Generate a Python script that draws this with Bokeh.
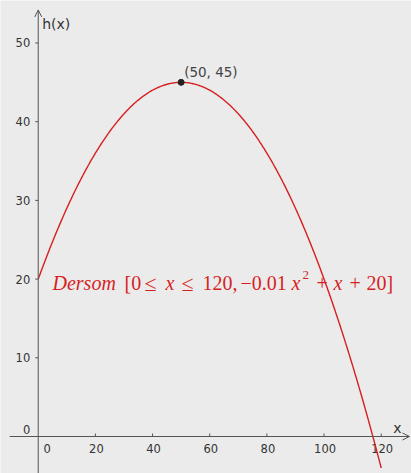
import numpy as np
from bokeh.plotting import figure
from bokeh.models import Range1d, ColumnDataSource, Arrow, OpenHead
from bokeh.core.properties import value
from bokeh.embed import file_html
from bokeh.resources import INLINE

# h(x) = a x^2 + b x + c on the interval [x_min, x_max]
coef_a = -0.01
coef_b = 1.0
coef_c = 20.0
x_min = 0
x_max = 120

# highlighted vertex
vertex_x = [50]
vertex_y = [45]
vertex_label = ["(50, 45)"]

# axis ticks
x_ticks = [0, 20, 40, 60, 80, 100, 120]
x_tick_labels = ["0", "20", "40", "60", "80", "100", "120"]
y_ticks = [0, 10, 20, 30, 40, 50]
y_tick_labels = ["0", "10", "20", "30", "40", "50"]

RED = "#d61f1f"
AXIS = "#555555"
TEXT = "#333333"

p = figure(width=411, height=473, x_range=Range1d(-13.2, 130.6), y_range=Range1d(-4.7, 55.4),
           output_backend="svg", toolbar_location=None, min_border=0)
p.axis.visible = False
p.grid.visible = False
p.outline_line_color = None
p.background_fill_color = "#ebebeb"
p.border_fill_color = "#ebebeb"

# coordinate axes with open arrowheads
p.add_layout(Arrow(x_start=-10, y_start=0, x_end=129.9, y_end=0, line_color=AXIS, line_width=1,
                   end=OpenHead(size=7, line_color=AXIS, line_width=1)))
p.add_layout(Arrow(x_start=0, y_start=-5, x_end=0, y_end=54.2, line_color=AXIS, line_width=1,
                   end=OpenHead(size=7, line_color=AXIS, line_width=1)))

# tick marks
xt = [t for t in x_ticks if t != 0]
p.ray(x=xt, y=[0] * len(xt), length=3, length_units="screen", angle=np.pi / 2, line_color=AXIS, line_width=1)
yt = [t for t in y_ticks if t != 0]
p.ray(x=[0] * len(yt), y=yt, length=3, length_units="screen", angle=np.pi, line_color=AXIS, line_width=1)

# tick labels
xl = ColumnDataSource(dict(x=x_ticks, y=[0] * len(x_ticks), t=x_tick_labels,
                           dx=[9 if v == 0 else 1 for v in x_ticks]))
p.text(x="x", y="y", text="t", x_offset="dx", y_offset=7, source=xl, text_align="center",
       text_baseline="top", text_font=value("DejaVu Sans"), text_font_size="11.5px", text_color=TEXT)
yl = ColumnDataSource(dict(x=[0] * len(y_ticks), y=y_ticks, t=y_tick_labels,
                           dy=[-7 if v == 0 else 0 for v in y_ticks]))
p.text(x="x", y="y", text="t", x_offset=-8, y_offset="dy", source=yl, text_align="right",
       text_baseline="middle", text_font=value("DejaVu Sans"), text_font_size="11.5px", text_color=TEXT)

# axis names
p.text(x=[0], y=[54.2], text=["h(x)"], x_offset=4, y_offset=14, text_align="left", text_baseline="middle",
       text_font=value("DejaVu Sans"), text_font_size="14px", text_color=TEXT)
p.text(x=[129.9], y=[0], text=["x"], x_offset=-12, y_offset=-9, text_align="center", text_baseline="middle",
       text_font=value("DejaVu Sans"), text_font_size="14px", text_color=TEXT)

# the parabola
xs = np.linspace(x_min, x_max, 400)
ys = coef_a * xs ** 2 + coef_b * xs + coef_c
p.line(xs, ys, line_color=RED, line_width=1.4)

# vertex point and its label
p.scatter(vertex_x, vertex_y, size=6, fill_color="#222222", line_color="#222222")
p.text(x=vertex_x, y=vertex_y, text=vertex_label, x_offset=3, y_offset=-10, text_align="left",
       text_baseline="alphabetic", text_font=value("DejaVu Sans"), text_font_size="13.5px", text_color="#444444")

# function description, set in pieces to mix italic variables with upright numbers
pieces = ["Dersom", "[0", "\u2264", "x", "\u2264", "120,", "\u22120.01", "x", "2", "+", "x", "+", "20]"]
styles = ["italic", "normal", "normal", "italic", "normal", "normal", "normal", "italic", "normal",
          "normal", "italic", "normal", "normal"]
dxs = [0, 72, 92, 113, 129, 150, 188, 239, 250, 264, 281, 297, 314]
dys = [0, 0, 0, 0, 0, 0, 0, 0, -8, 0, 0, 0, 0]
sizes = ["20px", "20px", "22px", "20px", "22px", "20px", "20px", "20px", "13px", "20px", "20px", "20px", "20px"]
lab = ColumnDataSource(dict(x=[5.0] * len(pieces), y=[19.45] * len(pieces), t=pieces, st=styles,
                            dx=dxs, dy=dys, fs=sizes))
p.text(x="x", y="y", text="t", x_offset="dx", y_offset="dy", text_font_style="st", text_font_size="fs",
       source=lab, text_align="left", text_baseline="alphabetic", text_font=value("Liberation Serif"),
       text_color=RED)

open("out.html", "w").write(file_html(p, INLINE))
